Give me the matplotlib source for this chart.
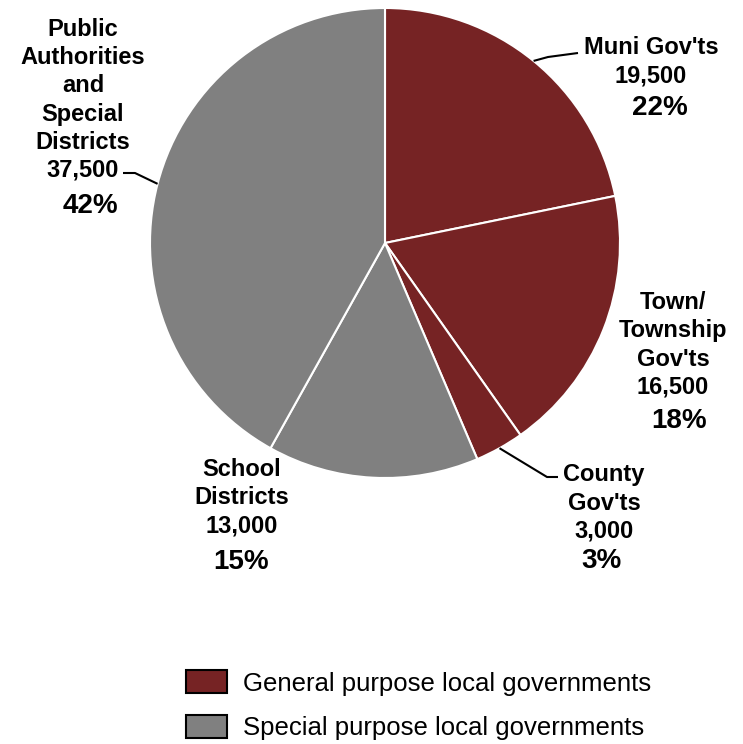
import matplotlib
matplotlib.use("Agg")
import matplotlib.pyplot as plt
from matplotlib.patches import Patch
import numpy as np

plt.rcParams['font.family'] = ['Liberation Sans', 'DejaVu Sans']

# Data
names = ["Muni Gov'ts", "Town/\nTownship\nGov'ts", "County\nGov'ts", "School\nDistricts",
         "Public\nAuthorities\nand\nSpecial\nDistricts"]
values = [19500, 16500, 3000, 13000, 37500]
groups = [0, 0, 0, 1, 1]
group_names = ["General purpose local governments", "Special purpose local governments"]
group_colors = ["#762324", "#808080"]

W, H = 743, 744
fig = plt.figure(figsize=(W / 100, H / 100), dpi=100)
ax = fig.add_axes([0, 0, 1, 1])
ax.set_xlim(0, W)
ax.set_ylim(0, H)
ax.set_aspect('equal')
ax.axis('off')

cx, cy, R = 385, H - 243, 235
colors = [group_colors[g] for g in groups]
wedges, _ = ax.pie(values, colors=colors, startangle=90, counterclock=False,
                   center=(cx, cy), radius=R,
                   wedgeprops=dict(edgecolor='white', linewidth=1.5))
ax.set_xlim(0, W)
ax.set_ylim(0, H)

total = sum(values)
# label placement (pixel coords from top)
label_pos = [(651, 62), (673, 345), (604, 503), (242, 498), (83, 100)]
pct_pos = [(660, 108), (679, 421), (601, 561), (241, 562), (90, 206)]
for i, (n, v) in enumerate(zip(names, values)):
    x, y = label_pos[i]
    ax.text(x, H - y, f"{n}\n{v:,}", ha='center', va='center', fontsize=17,
            fontweight='bold', linespacing=1.28)
    px, py = pct_pos[i]
    ax.text(px, H - py, f"{round(100 * v / total)}%", ha='center', va='center',
            fontsize=20, fontweight='bold')

# leader lines
def edge_point(i):
    w = wedges[i]
    a = np.deg2rad((w.theta1 + w.theta2) / 2)
    return cx + R * np.cos(a), cy + R * np.sin(a)

leaders = {0: [(548, 57), (578, 53)], 2: [(547, 477), (558, 477)], 4: [(135, 173), (123, 173)]}
for i, pts in leaders.items():
    ex, ey = edge_point(i)
    xs = [ex] + [p[0] for p in pts]
    ys = [ey] + [H - p[1] for p in pts]
    ax.plot(xs, ys, color='black', lw=1.5, solid_capstyle='butt')

handles = [Patch(facecolor=c, edgecolor='black', linewidth=1.5) for c in group_colors]
fig.legend(handles, group_names, loc='upper left', bbox_to_anchor=(176 / W, 1 - 660 / H),
           frameon=False, fontsize=18.5, handlelength=1.6, handleheight=1.0,
           labelspacing=0.75, handletextpad=0.6, borderaxespad=0)

fig.savefig("out.png", dpi=100)
